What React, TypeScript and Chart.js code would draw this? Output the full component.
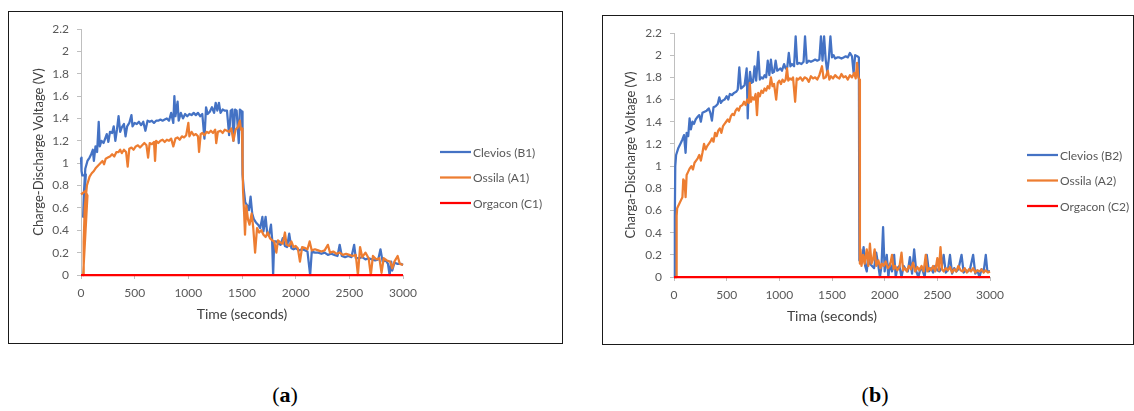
import React, { useEffect, useRef } from "react";
import { Chart, registerables } from "chart.js";

Chart.register(...registerables);

// ---------- Panel (a) ----------
const aCleviosT = [0, 5, 12, 30, 45, 20, 28, 40, 60, 80, 95, 110, 120, 135, 150, 165, 175, 190, 210, 225, 240, 255, 270, 290, 305, 320, 335, 350, 365, 380, 400, 415, 430, 450, 470, 480, 500, 520, 540, 560, 580, 600, 620, 640, 660, 680, 700, 720, 740, 760, 780, 800, 820, 840, 860, 870, 880, 900, 910, 930, 950, 970, 990, 1010, 1030, 1050, 1070, 1090, 1110, 1130, 1150, 1165, 1180, 1200, 1220, 1240, 1255, 1270, 1285, 1300, 1320, 1340, 1360, 1380, 1395, 1410, 1420, 1435, 1450, 1470, 1480, 1490, 1500, 1505, 1515, 1530, 1550, 1565, 1580, 1595, 1610, 1630, 1650, 1670, 1690, 1700, 1720, 1735, 1750, 1770, 1780, 1790, 1800, 1820, 1840, 1860, 1880, 1900, 1920, 1940, 1960, 1980, 2000, 2030, 2060, 2090, 2110, 2135, 2150, 2180, 2210, 2240, 2270, 2300, 2330, 2360, 2390, 2410, 2430, 2460, 2490, 2520, 2545, 2560, 2590, 2620, 2650, 2680, 2710, 2740, 2770, 2790, 2810, 2840, 2860, 2875, 2890, 2900, 2920, 2950, 2980, 3000];
const aCleviosV = [1.05, 0.93, 0.89, 0.89, 0.9, 0.52, 0.75, 0.95, 1.02, 1.05, 1.08, 1.12, 1.02, 1.15, 1.1, 1.37, 1.15, 1.2, 1.18, 1.22, 1.26, 1.19, 1.28, 1.27, 1.33, 1.2, 1.3, 1.42, 1.28, 1.32, 1.35, 1.24, 1.33, 1.36, 1.43, 1.33, 1.36, 1.35, 1.37, 1.34, 1.37, 1.29, 1.38, 1.37, 1.38, 1.36, 1.38, 1.38, 1.39, 1.38, 1.39, 1.4, 1.38, 1.45, 1.36, 1.6, 1.42, 1.55, 1.38, 1.45, 1.4, 1.44, 1.42, 1.44, 1.43, 1.45, 1.43, 1.45, 1.42, 1.44, 1.22, 1.5, 1.44, 1.46, 1.5, 1.45, 1.54, 1.47, 1.54, 1.45, 1.48, 1.47, 1.47, 1.25, 1.47, 1.48, 1.2, 1.48, 1.47, 1.18, 1.48, 1.47, 1.46, 0.9, 0.78, 0.65, 0.62, 0.58, 0.7, 0.55, 0.5, 0.47, 0.45, 0.42, 0.52, 0.39, 0.52, 0.37, 0.35, 0.45, 0.33, 0, 0.3, 0.3, 0.28, 0.27, 0.33, 0.26, 0.25, 0.37, 0.24, 0.23, 0.24, 0.22, 0.23, 0.22, 0.21, 0, 0.21, 0.2, 0.2, 0.19, 0.2, 0.18, 0.19, 0.18, 0.17, 0.27, 0.17, 0.16, 0.17, 0.16, 0.27, 0.15, 0.15, 0.16, 0.14, 0.15, 0.14, 0.13, 0.14, 0.23, 0.12, 0.13, 0.1, 0, 0.12, 0.04, 0.11, 0.1, 0.1, 0.09];

const aOssilaT = [0, 40, 60, 20, 25, 35, 55, 80, 100, 120, 140, 160, 180, 200, 215, 230, 250, 270, 290, 310, 330, 350, 365, 380, 400, 420, 435, 450, 470, 490, 510, 530, 550, 570, 590, 610, 625, 640, 660, 680, 690, 700, 720, 740, 760, 780, 800, 820, 840, 860, 880, 900, 920, 940, 960, 980, 1000, 1010, 1030, 1050, 1070, 1090, 1100, 1115, 1130, 1150, 1170, 1190, 1210, 1230, 1250, 1260, 1275, 1300, 1320, 1340, 1360, 1380, 1400, 1420, 1440, 1460, 1480, 1490, 1500, 1505, 1510, 1520, 1528, 1540, 1555, 1570, 1590, 1605, 1622, 1640, 1660, 1680, 1700, 1720, 1740, 1760, 1780, 1800, 1820, 1835, 1860, 1880, 1900, 1915, 1940, 1960, 1980, 2000, 2020, 2040, 2060, 2090, 2110, 2130, 2150, 2180, 2210, 2240, 2270, 2300, 2320, 2350, 2380, 2410, 2440, 2470, 2500, 2530, 2560, 2580, 2600, 2620, 2650, 2680, 2700, 2720, 2750, 2780, 2800, 2820, 2850, 2880, 2900, 2920, 2950, 2970, 3000];
const aOssilaV = [0.72, 0.75, 0.71, 0, 0.3, 0.6, 0.8, 0.88, 0.91, 0.93, 0.96, 0.98, 1.0, 1.02, 0.99, 1.04, 1.05, 1.06, 1.08, 1.06, 1.1, 1.1, 1.12, 1.09, 1.12, 1.1, 0.97, 1.13, 1.14, 1.12, 1.15, 1.16, 1.14, 1.16, 1.18, 1.16, 1.05, 1.18, 1.17, 1.19, 1.02, 1.2, 1.18, 1.2, 1.21, 1.19, 1.21, 1.2, 1.22, 1.15, 1.22, 1.23, 1.21, 1.24, 1.23, 1.25, 1.36, 1.24, 1.28, 1.25, 1.26, 1.24, 1.1, 1.26, 1.27, 1.25, 1.28, 1.27, 1.29, 1.27, 1.3, 1.18, 1.28, 1.29, 1.27, 1.3, 1.29, 1.28, 1.31, 1.2, 1.3, 1.32, 1.38, 1.3, 1.31, 1.0, 0.75, 0.55, 0.36, 0.62, 0.5, 0.45, 0.55, 0.42, 0.2, 0.42, 0.38, 0.4, 0.36, 0.34, 0.38, 0.33, 0.31, 0.3, 0.2, 0.31, 0.29, 0.28, 0.38, 0.27, 0.26, 0.3, 0.25, 0.26, 0.24, 0.12, 0.25, 0.24, 0.23, 0.3, 0.22, 0.23, 0.22, 0.21, 0.22, 0.27, 0.2, 0.21, 0.19, 0.2, 0.18, 0.19, 0.18, 0.17, 0.18, 0, 0.25, 0.16, 0.2, 0.15, 0, 0.17, 0.14, 0.15, 0.02, 0.15, 0.13, 0.12, 0.06, 0.12, 0.17, 0.1, 0.09];

const aOrgaconT = [0, 3000];
const aOrgaconV = [0, 0];

// ---------- Panel (b) ----------
const bCleviosT = [0, 8, 12, 20, 40, 60, 80, 95, 110, 120, 135, 148, 160, 175, 190, 205, 220, 240, 255, 270, 290, 310, 330, 345, 360, 375, 395, 415, 430, 445, 460, 480, 500, 515, 530, 550, 570, 590, 605, 620, 635, 650, 670, 690, 700, 710, 722, 735, 750, 765, 780, 800, 815, 830, 845, 860, 875, 890, 905, 920, 935, 950, 965, 980, 995, 1010, 1025, 1045, 1060, 1075, 1090, 1105, 1120, 1140, 1155, 1170, 1190, 1210, 1230, 1244, 1260, 1280, 1300, 1320, 1340, 1360, 1380, 1395, 1410, 1425, 1440, 1455, 1470, 1485, 1500, 1515, 1530, 1550, 1570, 1590, 1610, 1630, 1650, 1670, 1690, 1705, 1720, 1740, 1755, 1760, 1780, 1800, 1815, 1830, 1845, 1860, 1880, 1900, 1920, 1940, 1955, 1970, 1985, 2000, 2020, 2035, 2050, 2070, 2090, 2105, 2120, 2140, 2160, 2180, 2200, 2220, 2240, 2260, 2280, 2300, 2320, 2340, 2360, 2380, 2400, 2420, 2440, 2460, 2480, 2500, 2520, 2540, 2560, 2580, 2600, 2620, 2640, 2660, 2680, 2700, 2730, 2750, 2770, 2790, 2810, 2840, 2860, 2880, 2900, 2920, 2940, 2960, 2975, 3000];
const bCleviosV = [0, 0.55, 1.0, 1.1, 1.16, 1.2, 1.24, 1.28, 1.12, 1.3, 1.27, 1.43, 1.33, 1.4, 1.38, 1.42, 1.44, 1.46, 1.4, 1.48, 1.49, 1.5, 1.52, 1.48, 1.41, 1.53, 1.54, 1.56, 1.62, 1.57, 1.59, 1.6, 1.63, 1.6, 1.65, 1.64, 1.66, 1.67, 1.69, 1.89, 1.7, 1.71, 1.73, 1.88, 1.43, 1.74, 1.85, 1.75, 1.76, 1.9, 1.77, 2.03, 1.78, 1.8, 1.79, 1.82, 1.8, 1.95, 1.82, 1.96, 1.84, 1.85, 1.95, 1.86, 1.87, 1.88, 1.86, 1.92, 1.88, 1.89, 2.02, 1.9, 1.92, 1.9, 2.17, 1.92, 1.93, 1.92, 1.94, 2.17, 1.93, 1.95, 1.94, 1.95, 1.96, 1.95, 1.96, 2.17, 1.95, 2.17, 1.96, 1.85, 1.97, 2.17, 1.98, 2.0, 1.97, 1.98, 1.98, 1.97, 1.98, 1.99, 1.98, 2.02, 1.99, 1.84, 2.0, 1.99, 1.98, 0.15, 0.13, 0.27, 0.1, 0.05, 0.2, 0.12, 0.1, 0.08, 0.22, 0.1, 0, 0.1, 0.45, 0.05, 0.2, 0, 0.12, 0.05, 0.2, 0, 0.08, 0.1, 0, 0.1, 0.07, 0.05, 0.18, 0.03, 0.25, 0.05, 0, 0.08, 0.06, 0, 0.2, 0.05, 0.08, 0.04, 0.1, 0.06, 0.05, 0.08, 0.2, 0.04, 0.06, 0.2, 0.03, 0.08, 0.05, 0.07, 0.2, 0.04, 0.06, 0.05, 0.07, 0.2, 0.03, 0.06, 0, 0.07, 0.05, 0.2, 0.05, 0.05];

const bOssilaT = [0, 20, 25, 30, 50, 70, 80, 88, 100, 110, 120, 135, 150, 165, 180, 195, 210, 225, 240, 255, 270, 285, 300, 315, 330, 345, 360, 375, 390, 405, 420, 435, 450, 465, 480, 495, 510, 525, 540, 555, 570, 585, 600, 615, 630, 650, 665, 680, 695, 710, 720, 730, 745, 760, 775, 788, 800, 815, 830, 845, 860, 875, 890, 905, 920, 935, 950, 970, 985, 1000, 1015, 1030, 1045, 1060, 1073, 1085, 1100, 1115, 1130, 1150, 1165, 1180, 1200, 1220, 1240, 1260, 1280, 1300, 1320, 1340, 1360, 1380, 1405, 1420, 1440, 1460, 1475, 1490, 1510, 1530, 1550, 1570, 1590, 1610, 1630, 1650, 1670, 1690, 1710, 1725, 1738, 1750, 1760, 1765, 1770, 1780, 1795, 1810, 1830, 1845, 1860, 1875, 1890, 1905, 1920, 1940, 1960, 1975, 1990, 2010, 2030, 2050, 2070, 2085, 2100, 2120, 2140, 2160, 2175, 2190, 2210, 2230, 2250, 2270, 2290, 2310, 2330, 2350, 2370, 2390, 2405, 2420, 2440, 2460, 2480, 2500, 2515, 2530, 2545, 2560, 2580, 2600, 2620, 2640, 2660, 2680, 2700, 2720, 2740, 2760, 2780, 2800, 2820, 2840, 2860, 2880, 2900, 2920, 2940, 2960, 2980, 3000];
const bOssilaV = [0, 0, 0.55, 0.62, 0.66, 0.7, 0.72, 0.88, 0.86, 0.72, 0.92, 0.95, 0.98, 1.0, 0.97, 1.03, 1.05, 1.07, 1.1, 1.05, 1.12, 1.2, 1.15, 1.18, 1.2, 1.22, 1.25, 1.22, 1.3, 1.27, 1.32, 1.34, 1.3, 1.36, 1.38, 1.4, 1.42, 1.4, 1.45, 1.47, 1.46, 1.5, 1.52, 1.5, 1.54, 1.55, 1.58, 1.55, 1.6, 1.57, 1.75, 1.58, 1.62, 1.6, 1.65, 1.46, 1.66, 1.63, 1.68, 1.66, 1.7, 1.68, 1.72, 1.7, 1.8, 1.72, 1.74, 1.6, 1.75, 1.77, 1.74, 1.78, 1.76, 1.78, 1.88, 1.77, 1.79, 1.78, 1.8, 1.58, 1.79, 1.78, 1.8, 1.77, 1.8, 1.79, 1.76, 1.81, 1.79, 1.8, 1.78, 1.82, 1.9, 1.79, 1.8, 1.86, 1.78, 1.81, 1.79, 1.82, 1.8, 1.79, 1.83, 1.8, 1.81, 1.78, 1.82, 1.8, 1.84, 1.79, 1.93, 1.8, 1.78, 0.12, 0.25, 0.1, 0.2, 0.12, 0.25, 0.1, 0.3, 0.12, 0.16, 0.25, 0.1, 0.15, 0.08, 0.12, 0.1, 0.14, 0.08, 0.1, 0.2, 0.07, 0.1, 0.06, 0.09, 0.22, 0.06, 0.08, 0.05, 0.1, 0.07, 0.13, 0.05, 0.09, 0.06, 0.1, 0.05, 0.2, 0.05, 0.08, 0.06, 0.1, 0.05, 0.17, 0.06, 0.27, 0.07, 0.05, 0.08, 0.06, 0.09, 0.04, 0.07, 0.05, 0.1, 0.06, 0.05, 0.08, 0.04, 0.07, 0.05, 0.08, 0.04, 0.06, 0.05, 0.07, 0.04, 0.06, 0.04, 0.05];

const bOrgaconT = [0, 3000];
const bOrgaconV = [0, 0];

const yTicks = [0, 0.2, 0.4, 0.6, 0.8, 1, 1.2, 1.4, 1.6, 1.8, 2, 2.2];
const xTicks = [0, 500, 1000, 1500, 2000, 2500, 3000];

const BLUE = "#4472C4";
const ORANGE = "#ED7D31";
const RED = "#FF0000";
const FONT = "Lato, 'Open Sans', sans-serif";

const pts = (t: number[], v: number[]) => t.map((x, i) => ({ x, y: v[i] }));

const legendPlugin = {
  id: "customLegend",
  afterDraw(chart: any) {
    const { ctx, chartArea } = chart;
    const cx = chartArea.right + 37;
    const cy = (chartArea.top + chartArea.bottom) / 2;
    ctx.save();
    ctx.font = `12px ${FONT}`;
    ctx.textBaseline = "middle";
    ctx.textAlign = "left";
    chart.data.datasets.forEach((ds: any, i: number) => {
      const y = cy + i * 25.5;
      ctx.strokeStyle = ds.borderColor;
      ctx.lineWidth = 2.25;
      ctx.beginPath();
      ctx.moveTo(cx, y);
      ctx.lineTo(cx + 31, y);
      ctx.stroke();
      ctx.fillStyle = "#595959";
      ctx.fillText(ds.label, cx + 33, y + 1);
    });
    ctx.restore();
  },
};

interface PanelProps {
  left: number;
  top: number;
  width: number;
  height: number;
  padRight: number;
  yWidth: number;
  xHeight: number;
  xTitlePad: number;
  yTitlePad: number;
  xTitle: string;
  yTitle: string;
  labels: string[];
  series: { x: number; y: number }[][];
}

function Panel(p: PanelProps) {
  const ref = useRef<HTMLCanvasElement | null>(null);
  useEffect(() => {
    if (!ref.current) return;
    const colors = [BLUE, ORANGE, RED];
    const orders = [3, 2, 1];
    const chart = new Chart(ref.current, {
      type: "line",
      data: {
        datasets: p.series.map((d, i) => ({
          label: p.labels[i],
          data: d,
          borderColor: colors[i],
          backgroundColor: colors[i],
          borderWidth: 2.25,
          pointRadius: 0,
          tension: 0,
          fill: false,
          clip: false as any,
          order: orders[i],
          borderJoinStyle: "round" as const,
        })),
      },
      options: {
        animation: false,
        responsive: false,
        devicePixelRatio: 1,
        layout: { padding: { left: 0, top: 17, right: p.padRight, bottom: 0 } },
        plugins: { legend: { display: false }, tooltip: { enabled: false } },
        scales: {
          x: {
            type: "linear",
            min: 0,
            max: 3000,
            afterBuildTicks: (s: any) => {
              s.ticks = xTicks.map((v) => ({ value: v }));
            },
            afterFit: (s: any) => {
              s.height = p.xHeight;
            },
            border: { color: "#bfbfbf", width: 1 },
            grid: { drawOnChartArea: false, drawTicks: true, tickLength: 4, color: "#bfbfbf" },
            ticks: {
              color: "#595959",
              font: { family: FONT, size: 12 },
              padding: 7,
              maxRotation: 0,
              autoSkip: false,
              callback: (v: any) => String(Math.round(Number(v))),
            },
            title: {
              display: true,
              text: p.xTitle,
              color: "#404040",
              font: { family: FONT, size: 14 },
              padding: { top: 0, bottom: p.xTitlePad },
            },
          },
          y: {
            type: "linear",
            min: 0,
            max: 2.2,
            afterBuildTicks: (s: any) => {
              s.ticks = yTicks.map((v) => ({ value: v }));
            },
            afterFit: (s: any) => {
              s.width = p.yWidth;
            },
            border: { color: "#bfbfbf", width: 1 },
            grid: { drawOnChartArea: false, drawTicks: true, tickLength: 4, color: "#bfbfbf" },
            ticks: {
              color: "#595959",
              font: { family: FONT, size: 12 },
              padding: 8,
              callback: (v: any) => String(Math.round(Number(v) * 10) / 10),
            },
            title: {
              display: true,
              text: p.yTitle,
              color: "#404040",
              font: { family: FONT, size: 13 },
              padding: { top: p.yTitlePad, bottom: 0 },
            },
          },
        },
      },
      plugins: [legendPlugin],
    } as any);
    return () => chart.destroy();
  }, []);
  return (
    <div
      style={{
        position: "absolute",
        left: p.left,
        top: p.top,
        width: p.width,
        height: p.height,
        border: "1px solid #1a1a1a",
        boxSizing: "border-box",
        background: "#fff",
      }}
    >
      <canvas ref={ref} width={p.width - 2} height={p.height - 2} style={{ display: "block" }} />
    </div>
  );
}

export default function App() {
  return (
    <div style={{ position: "fixed", left: 0, top: 0, width: 1134, height: 411, background: "#fff", overflow: "hidden" }}>
      <Panel
        left={8}
        top={11}
        width={555}
        height={333}
        padRight={159}
        yWidth={72}
        xHeight={68}
        xTitlePad={20}
        yTitlePad={22}
        xTitle="Time (seconds)"
        yTitle="Charge-Discharge Voltage (V)"
        labels={["Clevios (B1)", "Ossila (A1)", "Orgacon (C1)"]}
        series={[pts(aCleviosT, aCleviosV), pts(aOssilaT, aOssilaV), pts(aOrgaconT, aOrgaconV)]}
      />
      <Panel
        left={602}
        top={15}
        width={532}
        height={330}
        padRight={143}
        yWidth={71}
        xHeight={67}
        xTitlePad={19}
        yTitlePad={20}
        xTitle="Tima (seconds)"
        yTitle="Charga-Discharge Voltage (V)"
        labels={["Clevios (B2)", "Ossila (A2)", "Orgacon (C2)"]}
        series={[pts(bCleviosT, bCleviosV), pts(bOssilaT, bOssilaV), pts(bOrgaconT, bOrgaconV)]}
      />
      <div style={{ position: "absolute", left: 235, top: 382, width: 100, textAlign: "center", fontFamily: "'Liberation Serif', serif", fontSize: 22, color: "#000" }}>
        (<b>a</b>)
      </div>
      <div style={{ position: "absolute", left: 825, top: 382, width: 100, textAlign: "center", fontFamily: "'Liberation Serif', serif", fontSize: 22, color: "#000" }}>
        (<b>b</b>)
      </div>
    </div>
  );
}
